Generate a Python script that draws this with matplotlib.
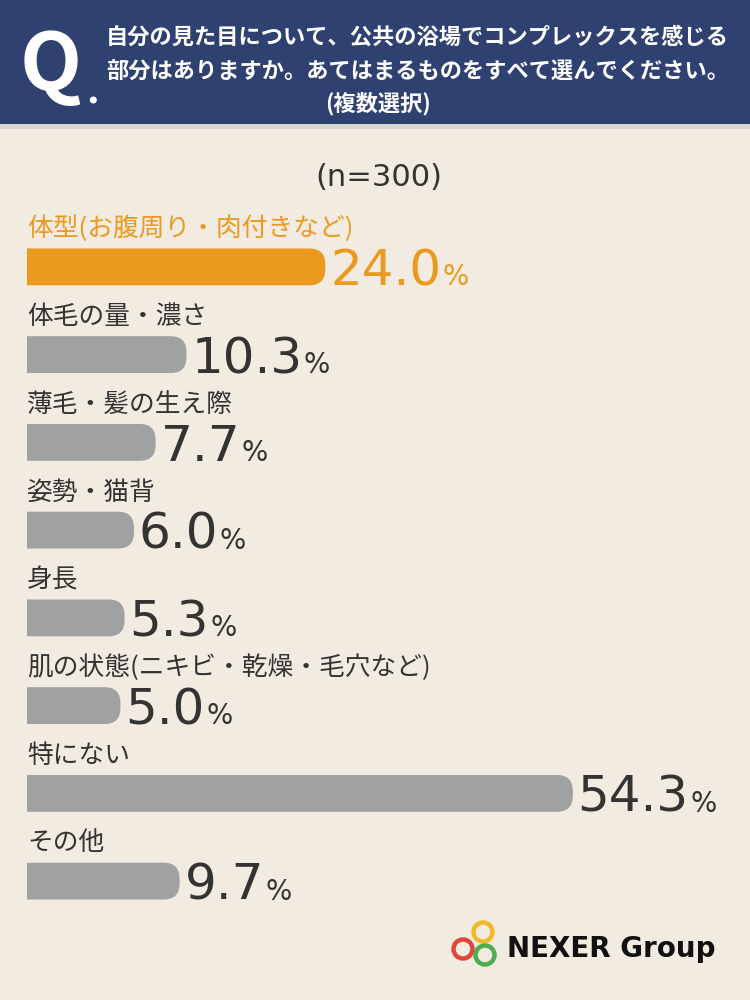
import numpy as np
import matplotlib
matplotlib.use("Agg")
import matplotlib.pyplot as plt
from matplotlib.path import Path
from matplotlib.patches import PathPatch, Rectangle, Circle
from matplotlib.transforms import IdentityTransform

plt.rcParams['font.family'] = ['Noto Sans CJK JP', 'DejaVu Sans']

# data
categories = ['体型(お腹周り・肉付きなど)', '体毛の量・濃さ', '薄毛・髪の生え際', '姿勢・猫背',
              '身長', '肌の状態(ニキビ・乾燥・毛穴など)', '特にない', 'その他']
values = [24.0, 10.3, 7.7, 6.0, 5.3, 5.0, 54.3, 9.7]
highlight = [True, False, False, False, False, False, False, False]
question = ['自分の見た目について、公共の浴場でコンプレックスを感じる',
            '部分はありますか。あてはまるものをすべて選んでください。',
            '(複数選択)']
sample = '(n=300)'

BG = '#f2ebe1'
NAVY = '#2f4170'
ORANGE = '#ea9a1f'
GREY = '#a0a1a3'
DARK = '#333333'

W, H = 750, 1000
fig = plt.figure(figsize=(W / 100, H / 100), dpi=100)
fig.patch.set_facecolor(BG)

# background / decoration axes in pixel units
bg = fig.add_axes([0, 0, 1, 1])
bg.set_xlim(0, W)
bg.set_ylim(H, 0)
bg.axis('off')

bg.add_patch(Rectangle((0, 0), W, 124, color=NAVY, lw=0))
bg.add_patch(Rectangle((0, 124), W, 5, color='#d8d6d2', lw=0))

bg.text(20, 66, 'Q', color='white', fontsize=58, fontweight='bold',
        ha='left', va='center', family=['Noto Sans CJK JP'])
bg.text(86, 104, '.', color='white', fontsize=28, fontweight='bold',
        ha='left', va='baseline', family=['Noto Sans CJK JP'])
bg.text(106, 37, question[0], color='white', fontsize=16, fontweight='bold',
        ha='left', va='center')
bg.text(106, 72, question[1], color='white', fontsize=16, fontweight='bold',
        ha='left', va='center')
bg.text(378, 104, question[2], color='white', fontsize=16, fontweight='bold',
        ha='center', va='center')

bg.text(379, 178, sample, color=DARK, fontsize=22, ha='center', va='center',
        family=['DejaVu Sans'])

# logo
for (cx, cy), col in zip([(483, 932), (463, 949), (485, 955)],
                         ['#f0b92a', '#e0463a', '#4cae4c']):
    bg.add_patch(Circle((cx, cy), 9.5, fill=False, ec=col, lw=3.2))
bg.text(507, 957, 'NEXER Group', color='#111111', fontsize=20, fontweight='bold',
        ha='left', va='baseline', family=['DejaVu Sans'])

# bar axes
top_px, row_px = 223, 87.75
n = len(categories)
ax = fig.add_axes([27 / W, 1 - (top_px + n * row_px) / H, 700 / W, n * row_px / H])
ax.patch.set_alpha(0)
ax.set_xscale('function', functions=(lambda x: np.power(np.clip(x, 0, None), 0.74),
                                     lambda y: np.power(np.clip(y, 0, None), 1 / 0.74)))
ax.set_xlim(0, 76)
ax.set_ylim(n - 0.5, -0.5)
ax.axis('off')

y = np.arange(n)
bar_h = 0.42
colors = [ORANGE if h else GREY for h in highlight]
bars = ax.barh(y, values, height=bar_h, color=colors)

for i, (lab, v, h) in enumerate(zip(categories, values, highlight)):
    tc = ORANGE if h else DARK
    ax.text(0, i - 0.43, lab, color=tc, fontsize=18.5, ha='left', va='center')
    num = ax.annotate(f'{v:.1f}', xy=(v, i + bar_h / 2), xytext=(3.5, 0),
                      textcoords='offset points', color=tc, fontsize=36,
                      ha='left', va='baseline', family=['DejaVu Sans'])
    ax.annotate('%', xy=(1, i + bar_h / 2), xycoords=(num, 'data'), xytext=(1, 0),
                textcoords='offset points', color=tc, fontsize=20,
                ha='left', va='baseline', family=['DejaVu Sans'])

# replace square bars with right-rounded ones
fig.canvas.draw()
renderer = fig.canvas.get_renderer()
r = 16
for b in bars:
    bb = b.get_window_extent(renderer)
    x0, y0, x1, y1 = bb.x0, bb.y0, bb.x1, bb.y1
    verts = [(x0, y0), (x1 - r, y0), (x1, y0), (x1, y0 + r), (x1, y1 - r),
             (x1, y1), (x1 - r, y1), (x0, y1), (x0, y0)]
    codes = [Path.MOVETO, Path.LINETO, Path.CURVE3, Path.CURVE3, Path.LINETO,
             Path.CURVE3, Path.CURVE3, Path.LINETO, Path.CLOSEPOLY]
    fig.add_artist(PathPatch(Path(verts, codes), transform=IdentityTransform(),
                             facecolor=b.get_facecolor(), lw=0, zorder=0.5))
    b.set_visible(False)

fig.savefig('out.png', dpi=100, facecolor=BG)
